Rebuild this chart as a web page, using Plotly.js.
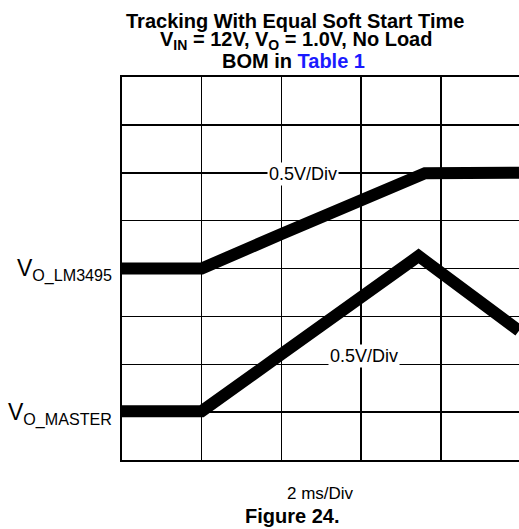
<!DOCTYPE html>
<html>
<head>
<meta charset="utf-8">
<script src="https://cdn.plot.ly/plotly-3.0.1.min.js"></script>
<style>html,body{margin:0;padding:0;background:#fff;}#chart{width:519px;height:529px;}</style>
</head>
<body>
<div id="chart"></div>
<script>
// Time in divisions (2 ms/Div), voltage in divisions (0.5 V/Div)
const lmTime    = [0, 1.0, 2.0, 3.0, 3.55, 3.68, 3.8, 4.98];
const lmVolts   = [4.0, 4.0, 4.72, 5.44, 5.84, 5.94, 5.99, 6.0];
const mstTime   = [0, 1.0, 2.0, 3.0, 3.72, 4.98];
const mstVolts  = [1.02, 1.02, 2.21, 3.43, 4.26, 2.7];
const traceNames = ['V<sub>O_LM3495</sub>', 'V<sub>O_MASTER</sub>'];
const scaleLabel = '0.5V/Div';
const timeLabel = '2 ms/Div';

const FONT = 'Liberation Sans, Arial, Helvetica, sans-serif';
const T = 77, B = 460, L = 122, W = 519, H = 529;
const py = p => (B - p) / (B - T);
const px = p => (p - L) / (W - L);

const traces = [
  {x: lmTime, y: lmVolts, mode: 'lines', line: {color: '#000', width: 12}, hoverinfo: 'skip'},
  {x: mstTime, y: mstVolts, mode: 'lines', line: {color: '#000', width: 12}, hoverinfo: 'skip'}
];

const ann = (text, x, y, size, opts) => Object.assign({
  text: text, xref: 'paper', yref: 'paper', x: x, y: y, showarrow: false,
  font: {family: FONT, size: size, color: '#000'}, xanchor: 'center', yanchor: 'middle'
}, opts || {});

const layout = {
  width: W, height: H,
  margin: {l: L, r: 0, t: T, b: H - B, pad: 0},
  paper_bgcolor: '#fff', plot_bgcolor: '#fff',
  showlegend: false,
  xaxis: {range: [0, 4.98], dtick: 1, tick0: 0, showgrid: true, gridcolor: '#000', gridwidth: 1.5,
          zeroline: false, showticklabels: false, ticks: '', showline: true, linecolor: '#000', linewidth: 2, mirror: true, fixedrange: true},
  yaxis: {range: [0, 8], dtick: 1, tick0: 0, showgrid: true, gridcolor: '#000', gridwidth: 1.5,
          zeroline: false, showticklabels: false, ticks: '', showline: true, linecolor: '#000', linewidth: 2, fixedrange: true},
  annotations: [
    ann('<b>Tracking With Equal Soft Start Time</b>', px(295), py(21), 20),
    ann('<b>V<sub>IN</sub> = 12V, V<sub>O</sub> = 1.0V, No Load</b>', px(296), py(41), 20),
    ann('<b>BOM in <span style="color:#1a1aff">Table 1</span></b>', px(293), py(61), 20),
    ann(traceNames[0], px(114), py(270), 23, {xanchor: 'right'}),
    ann(traceNames[1], px(114), py(414), 23, {xanchor: 'right'}),
    ann(scaleLabel, px(303), py(174), 18, {bgcolor: '#fff', borderpad: 1}),
    ann(scaleLabel, px(364), py(356), 18, {bgcolor: '#fff', borderpad: 1}),
    ann(timeLabel, px(320), py(493), 17),
    ann('<b>Figure 24.</b>', px(292), py(516), 20)
  ]
};

Plotly.newPlot('chart', traces, layout, {staticPlot: true, displayModeBar: false});
</script>
</body>
</html>
